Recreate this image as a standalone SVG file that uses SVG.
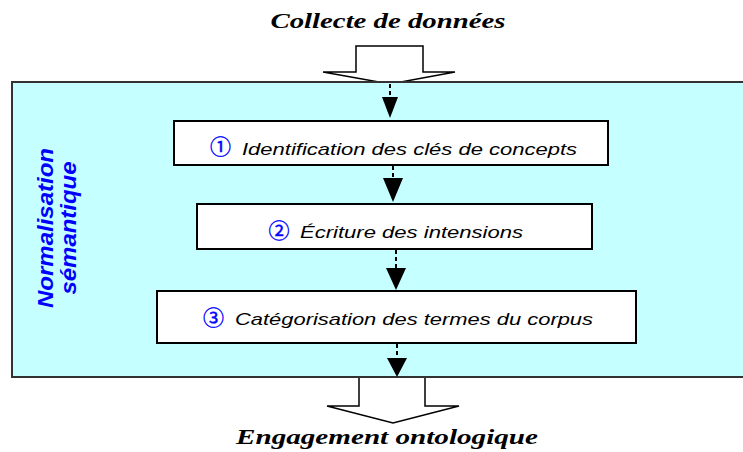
<svg xmlns="http://www.w3.org/2000/svg" width="743" height="452" viewBox="0 0 743 452">
<style>
.title{font-family:"Liberation Serif","Times New Roman",serif;font-weight:bold;font-style:italic;font-size:22px;fill:#000;text-anchor:middle}
.step{font-family:"Liberation Sans",Arial,sans-serif;font-style:italic;font-size:17px;fill:#000}
.num{font-family:"Noto Sans CJK JP","DejaVu Sans",sans-serif;font-size:21px;fill:#0000FF;text-anchor:middle;stroke:#0000FF;stroke-width:0.4}
.side{font-family:"Liberation Sans",Arial,sans-serif;font-weight:bold;font-style:italic;font-size:22px;fill:#0000FF;text-anchor:middle}
.box{fill:#fff;stroke:#000;stroke-width:2}
.hollow{fill:#fff;stroke:#000;stroke-width:1.5}
.dash{stroke:#000;stroke-width:2;stroke-dasharray:4 3;fill:none}
.head{fill:#000}
</style>
<rect width="743" height="452" fill="#fff"/>
<g id="input">
<polygon class="hollow" points="356,46 423,46 423,72 455,72 390,84 323,72 356,72"/>
<text class="title" x="388" y="28" textLength="235" lengthAdjust="spacingAndGlyphs">Collecte de données</text>
</g>
<g id="output">
<polygon class="hollow" points="359,377 425,377 425,406 459,406 393,423 327,406 359,406"/>
<text class="title" x="387" y="444" textLength="302" lengthAdjust="spacingAndGlyphs">Engagement ontologique</text>
</g>
<g id="panel">
<rect x="12" y="82" width="745" height="295" fill="#C6FFFF" stroke="#333" stroke-width="2"/>
<text class="side" transform="translate(53,228) rotate(-90)" textLength="160" lengthAdjust="spacingAndGlyphs">Normalisation</text>
<text class="side" transform="translate(76,228) rotate(-90)" textLength="133" lengthAdjust="spacingAndGlyphs">sémantique</text>
</g>
<g id="step1">
<rect class="box" x="174" y="121" width="434" height="44"/>
<text class="num" x="220.5" y="154">①</text>
<text class="step" x="242" y="155" textLength="335" lengthAdjust="spacingAndGlyphs">Identification des clés de concepts</text>
</g>
<g id="step2">
<rect class="box" x="197" y="204" width="395" height="45"/>
<text class="num" x="279" y="238">②</text>
<text class="step" x="300" y="238" textLength="223" lengthAdjust="spacingAndGlyphs">Écriture des intensions</text>
</g>
<g id="step3">
<rect class="box" x="157" y="291" width="479" height="52"/>
<text class="num" x="213.5" y="325">③</text>
<text class="step" x="235" y="325" textLength="358" lengthAdjust="spacingAndGlyphs">Catégorisation des termes du corpus</text>
</g>
<g id="connectors">
<line class="dash" x1="390" y1="84" x2="390" y2="98"/>
<polygon class="head" points="382,97 398,97 390,118"/>
<line class="dash" x1="393" y1="166" x2="393" y2="179"/>
<polygon class="head" points="383,178 403,178 393,202"/>
<line class="dash" x1="396" y1="250" x2="396" y2="269"/>
<polygon class="head" points="386,268 406,268 396,290"/>
<line class="dash" x1="397" y1="344" x2="397" y2="359"/>
<polygon class="head" points="387,358 407,358 397,377"/>
</g>
</svg>
